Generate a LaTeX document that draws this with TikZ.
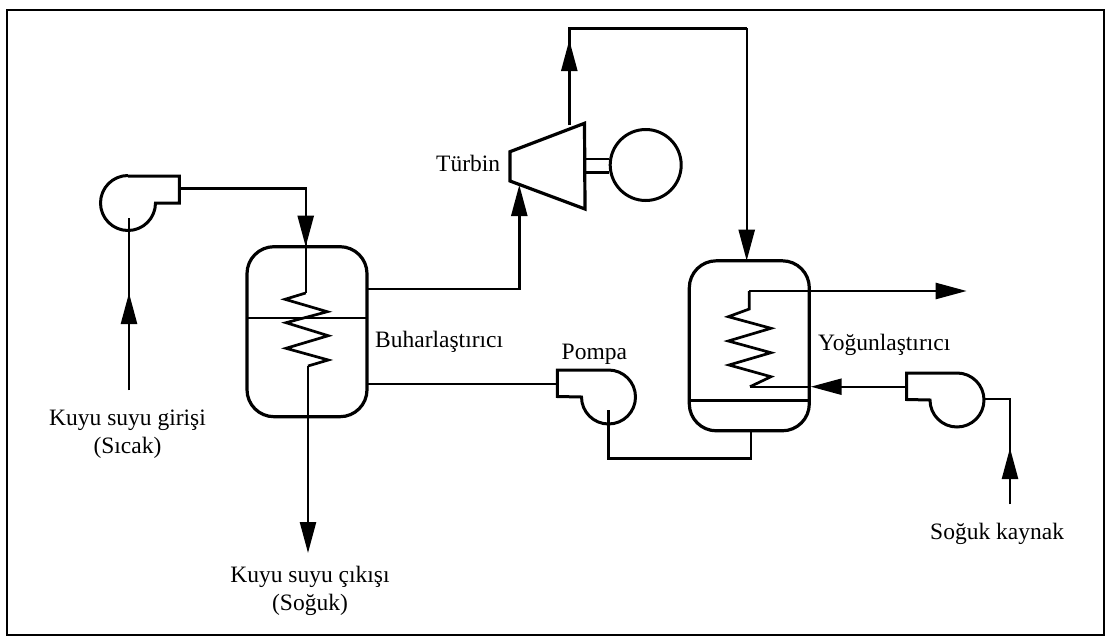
\documentclass[tikz,border=0pt]{standalone}
\usepackage{fontspec}
\setmainfont{Liberation Serif}
\usetikzlibrary{arrows.meta, calc}

\begin{document}
\begin{tikzpicture}[x=1pt, y=-1pt,
    pipe/.style={line width=2.4pt, line join=miter},
    flow/.style={line width=2.4pt, -{Triangle[length=31pt,width=16pt]}},
    coil/.style={line width=2.7pt, line join=miter},
    shell/.style={line width=3pt},
    vessel/.style={draw, line width=3.2pt, rounded corners=27pt, inner sep=0pt},
    lbl/.style={font=\fontsize{23.5}{27.5}\selectfont, inner sep=0pt, align=center}]
\useasboundingbox (0,0) rectangle (1105,637);

% Outer frame
\draw[line width=2.8pt] (7,10) rectangle (1104,635);

% Vessels
\node[vessel, minimum width=120pt, minimum height=170pt] (evap) at (307,331.7) {};
\node[vessel, minimum width=120pt, minimum height=170pt] (cond) at (749.3,345.8) {};
\coordinate (evapdivl) at (247,317.7);
\coordinate (evapdivr) at (367,317.7);
\coordinate (conddivl) at (689.3,400);
\coordinate (conddivr) at (809.3,400);
\draw[line width=2pt] (evapdivl) -- (evapdivr);
\draw[shell] (conddivl) -- (conddivr);

% Well water pump (outlet to the right)
\draw[shell] (128,176) -- (179.3,176) -- (179.3,203) -- (155.5,203)
    arc[start angle=0, end angle=270, radius=27.5];

% Pompa and cold source pump (outlet to the left)
\foreach \cx/\cy/\lx in {608.5/396.5/557.3, 957/399.5/906.7} {
    \draw[shell] (\lx,\cy-26.5) -- (\cx,\cy-26.5)
        arc[start angle=-90, end angle=180, radius=27] -- (\lx,\cy) -- cycle;
}

% Turbine and generator
\draw[shell, line width=3.2pt, line join=miter] (510,151.7) -- (584.5,123.3) -- (585,209) -- (510,181) -- cycle;
\node[draw, circle, line width=3pt, minimum size=71pt, inner sep=0pt] (gen) at (645.7,165) {};
\coordinate (shafta) at (585,159);
\coordinate (shaftb) at (585,172.7);
\draw[line width=2.6pt] (shafta) -- (shafta -| gen.west);
\draw[line width=2.6pt] (shaftb) -- (shaftb -| gen.west);

% Well water line
\coordinate (wellin) at (129,390);
\coordinate (wellpump) at (129,218);
\coordinate (welltip) at (129,293);
\coordinate (pumpout) at (179.3,188.5);
\coordinate (evapin) at (305.7,188.5);
\coordinate (evaptop) at (305.7,246.7);
\coordinate (coilin) at (305.7,293);
\coordinate (coilout) at (308,366);
\coordinate (wellout) at (308,553);
\draw[pipe] (wellin) -- (wellpump);
\draw[flow] (wellin) -- (welltip);
\draw[pipe] (pumpout) -- (evapin) -- (evaptop);
\draw[flow] (evapin) -- (evaptop);
\draw[pipe] (evaptop) -- (coilin);
\draw[coil] (coilin) -- (285,299.3) -- (327.3,311.7) -- (286,322.7) -- (328.3,335.7)
    -- (286,348.3) -- (328.3,360) -- (coilout);
\draw[flow] (coilout) -- (wellout);

% Steam to turbine
\coordinate (steamout) at (367,289);
\coordinate (steamup) at (519.3,289);
\coordinate (turbin) at (519.3,185);
\draw[flow] (steamout) -- (steamup) -- (turbin);

% Turbine to condenser
\coordinate (turbout) at (569.3,125);
\coordinate (turbtop) at (569.3,28.3);
\coordinate (turbtip) at (569.3,40);
\coordinate (condline) at (746.7,28.3);
\coordinate (condtop) at (746.7,260.7);
\draw[pipe] (turbout) -- (turbtop) -- (condline);
\draw[flow] (turbout) -- (turbtip);
\draw[flow] (condline) -- (condtop);

% Condensate back to evaporator
\coordinate (evapout) at (367,384);
\coordinate (pumpin) at (557.3,384);
\coordinate (pumpeye) at (608.3,410);
\coordinate (pumpfoot) at (608.3,458.3);
\coordinate (condfoot) at (750.7,458.3);
\coordinate (condbot) at (750.7,431);
\draw[pipe] (evapout) -- (pumpin);
\draw[pipe] (pumpeye) -- (pumpfoot) -- (condfoot) -- (condbot);

% Cooling water
\coordinate (coldin) at (1010,504);
\coordinate (coldtip) at (1010,448);
\coordinate (coldup) at (1010,399);
\coordinate (coldpump) at (985,399);
\coordinate (coldout) at (906.7,386.7);
\coordinate (condin) at (810.7,386.7);
\coordinate (coilend) at (750,386.7);
\coordinate (coiltop) at (749.3,291);
\coordinate (coolout) at (966.7,291);
\draw[pipe] (coldin) -- (coldup) -- (coldpump);
\draw[flow] (coldin) -- (coldtip);
\draw[flow] (coldout) -- (condin);
\draw[pipe] (condin) -- (coilend);
\draw[coil] (coilend) -- (771,376.7) -- (729,365) -- (771,352.7) -- (728.3,341)
    -- (771,328.3) -- (728.3,316.7) -- (749.3,309) -- (coiltop);
\draw[flow] (coiltop) -- (coolout);

% Labels
\node[lbl, anchor=base] (kuyuin) at (127.5,453) {Kuyu suyu girişi\\(Sıcak)};
\node[lbl, anchor=base] (kuyuout) at (310,610) {Kuyu suyu çıkışı\\(Soğuk)};
\node[lbl, anchor=base west] (evaplbl) at (375,347) {Buharlaştırıcı};
\node[lbl, anchor=base west] (turblbl) at (436,171) {Türbin};
\node[lbl, anchor=base west] (pumplbl) at (561.5,359) {Pompa};
\node[lbl, anchor=base west] (condlbl) at (818,350) {Yoğunlaştırıcı};
\node[lbl, anchor=base west] (coldlbl) at (930,539) {Soğuk kaynak};
\end{tikzpicture}
\end{document}
